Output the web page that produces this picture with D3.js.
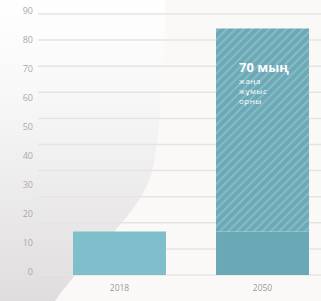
<!DOCTYPE html>
<html>
<head>
<meta charset="utf-8">
<script src="https://cdn.jsdelivr.net/npm/d3@7"></script>
<style>
  html, body { margin: 0; padding: 0; background: #fbf9f8; }
  svg { display: block; font-family: "Open Sans", sans-serif; }
</style>
</head>
<body>
<svg id="chart" width="321" height="301"></svg>
<script>
// Data
const years = ['2018', '2050'];
const baseValues = [15, 15];      // existing jobs (thousand)
const newValues = [0, 70];        // new jobs (thousand)
const tickLabels = [0, 10, 20, 30, 40, 50, 60, 70, 80, 90];
const gridValues = [0, 9, 18, 27, 36, 45, 54, 63, 72, 81, 90];
const noteLines = ['70 мың', 'жаңа', 'жұмыс', 'орны'];

const width = 321, height = 301;
const svg = d3.select('#chart');

// Background wash
const defs = svg.append('defs');
const bg = defs.append('linearGradient')
    .attr('id', 'bg-grad')
    .attr('x1', '0%').attr('y1', '0%')
    .attr('x2', '0%').attr('y2', '100%');
bg.append('stop').attr('offset', '0%').attr('stop-color', '#ffffff');
bg.append('stop').attr('offset', '30%').attr('stop-color', '#f9f8f8');
bg.append('stop').attr('offset', '100%').attr('stop-color', '#dfdddd');

const pattern = defs.append('pattern')
    .attr('id', 'hatch')
    .attr('patternUnits', 'userSpaceOnUse')
    .attr('width', 6).attr('height', 6)
    .attr('patternTransform', 'rotate(45)');
pattern.append('rect').attr('width', 6).attr('height', 6).attr('fill', '#6ca9b6');
pattern.append('rect').attr('width', 2).attr('height', 6).attr('fill', '#86bbc6');

svg.append('rect')
    .attr('width', width).attr('height', height)
    .attr('fill', '#fbf9f8');

svg.append('path')
    .attr('d', 'M0,0 L165,0 C165,60 160,140 152,172 C140,215 95,245 55,301 L0,301 Z')
    .attr('fill', 'url(#bg-grad)');

// Scales
const x = d3.scaleBand()
    .domain(years)
    .range([48, 334])
    .paddingInner(0.35)
    .paddingOuter(0.175);

const y = d3.scaleLinear()
    .domain([0, 90])
    .range([275, 14]);

// Grid lines
svg.append('g')
    .selectAll('line')
    .data(gridValues)
    .join('line')
    .attr('x1', 38).attr('x2', width)
    .attr('y1', d => y(d)).attr('y2', d => y(d))
    .attr('stroke', '#e6e4e3')
    .attr('stroke-width', 1.5);

// Y tick labels
svg.append('g')
    .selectAll('text')
    .data(tickLabels)
    .join('text')
    .attr('x', 33)
    .attr('y', d => y(d) - 3)
    .attr('dy', '0.35em')
    .attr('text-anchor', 'end')
    .attr('fill', '#aaaaaa')
    .attr('font-size', 9)
    .text(d => d);

// Bars: base part
svg.append('g')
    .selectAll('rect')
    .data(years)
    .join('rect')
    .attr('x', d => x(d))
    .attr('width', x.bandwidth())
    .attr('y', (d, i) => y(baseValues[i]))
    .attr('height', (d, i) => y(0) - y(baseValues[i]))
    .attr('fill', (d, i) => newValues[i] > 0 ? '#6aa8b5' : '#7fbecb');

// Bars: new jobs (hatched)
svg.append('g')
    .selectAll('rect')
    .data(years.filter((d, i) => newValues[i] > 0))
    .join('rect')
    .attr('x', d => x(d))
    .attr('width', x.bandwidth())
    .attr('y', d => { const i = years.indexOf(d); return y(baseValues[i] + newValues[i]); })
    .attr('height', d => { const i = years.indexOf(d); return y(0) - y(newValues[i]); })
    .attr('fill', 'url(#hatch)');

// Note inside 2050 bar
const note = svg.append('text')
    .attr('x', x('2050') + 23)
    .attr('fill', '#ffffff');
note.selectAll('tspan')
    .data(noteLines)
    .join('tspan')
    .attr('x', x('2050') + 23)
    .attr('y', (d, i) => i === 0 ? 72 : 74 + i * 10)
    .attr('font-size', (d, i) => i === 0 ? 13 : 8)
    .attr('font-weight', (d, i) => i === 0 ? 700 : 400)
    .attr('letter-spacing', (d, i) => i === 0 ? 0 : 0.5)
    .text(d => d);

// X labels
svg.append('g')
    .selectAll('text')
    .data(years)
    .join('text')
    .attr('x', d => x(d) + x.bandwidth() / 2)
    .attr('y', 291)
    .attr('text-anchor', 'middle')
    .attr('fill', '#999999')
    .attr('font-size', 8.5)
    .text(d => d);
</script>
</body>
</html>
